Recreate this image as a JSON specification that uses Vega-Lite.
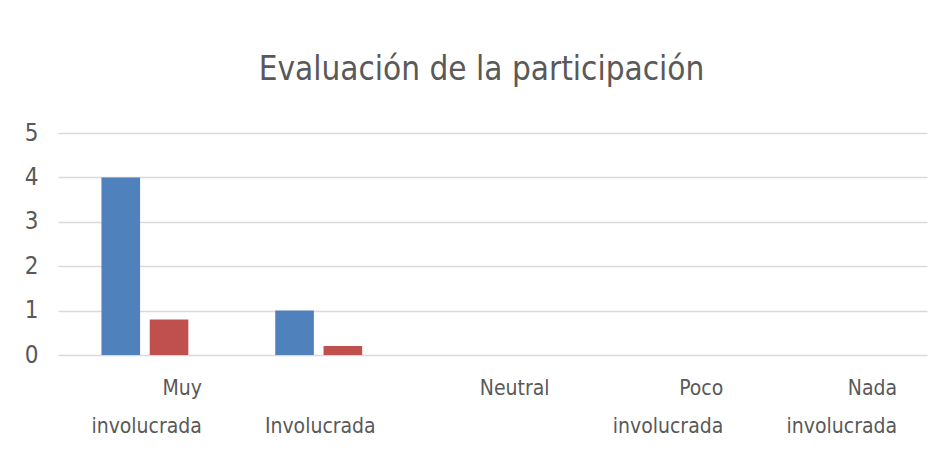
{
  "$schema": "https://vega.github.io/schema/vega-lite/v6.json",
  "autosize": "none",
  "width": 869,
  "height": 222,
  "padding": {"left": 58, "top": 133, "right": 15, "bottom": 100},
  "background": "white",
  "title": {
    "text": "Evaluación de la participación",
    "font": "'DejaVu Sans Condensed', Lato, sans-serif",
    "fontSize": 33,
    "fontWeight": "normal",
    "color": "#595959",
    "anchor": "middle",
    "dx": -11,
    "offset": 34
  },
  "data": {
    "values": [
      {"categoria": "Muy involucrada", "serie": "Serie 1", "valor": 4},
      {"categoria": "Muy involucrada", "serie": "Serie 2", "valor": 0.8},
      {"categoria": "Involucrada", "serie": "Serie 1", "valor": 1},
      {"categoria": "Involucrada", "serie": "Serie 2", "valor": 0.2},
      {"categoria": "Neutral", "serie": "Serie 1", "valor": 0},
      {"categoria": "Neutral", "serie": "Serie 2", "valor": 0},
      {"categoria": "Poco involucrada", "serie": "Serie 1", "valor": 0},
      {"categoria": "Poco involucrada", "serie": "Serie 2", "valor": 0},
      {"categoria": "Nada involucrada", "serie": "Serie 1", "valor": 0},
      {"categoria": "Nada involucrada", "serie": "Serie 2", "valor": 0}
    ]
  },
  "mark": {"type": "bar"},
  "encoding": {
    "x": {
      "field": "categoria",
      "type": "nominal",
      "sort": null,
      "scale": {"paddingInner": 0.5, "paddingOuter": 0.25},
      "axis": {
        "title": null,
        "domain": false,
        "ticks": false,
        "labelAngle": 0,
        "labelAlign": "right",
        "labelBaseline": "top",
        "labelOffset": 57,
        "labelPadding": 22,
        "labelLineHeight": 38,
        "labelFont": "'DejaVu Sans Condensed', Lato, sans-serif",
        "labelFontSize": 21,
        "labelColor": "#595959",
        "labelExpr": "datum.value == 'Muy involucrada' ? ['Muy', 'involucrada'] : datum.value == 'Involucrada' ? ['', 'Involucrada'] : datum.value == 'Neutral' ? ['Neutral', ''] : datum.value == 'Poco involucrada' ? ['Poco', 'involucrada'] : ['Nada', 'involucrada']"
      }
    },
    "xOffset": {
      "field": "serie",
      "type": "nominal",
      "scale": {"paddingInner": 0.2}
    },
    "y": {
      "field": "valor",
      "type": "quantitative",
      "scale": {"domain": [0, 5]},
      "axis": {
        "title": null,
        "values": [0, 1, 2, 3, 4, 5],
        "domain": false,
        "ticks": false,
        "labelPadding": 20,
        "labelFont": "'DejaVu Sans Condensed', Lato, sans-serif",
        "labelFontSize": 24,
        "labelColor": "#595959",
        "gridColor": "#d9d9d9",
        "gridWidth": 1.5
      }
    },
    "color": {
      "field": "serie",
      "type": "nominal",
      "scale": {"domain": ["Serie 1", "Serie 2"], "range": ["#4f81bd", "#c0504d"]},
      "legend": null
    }
  },
  "config": {"view": {"stroke": null}}
}
